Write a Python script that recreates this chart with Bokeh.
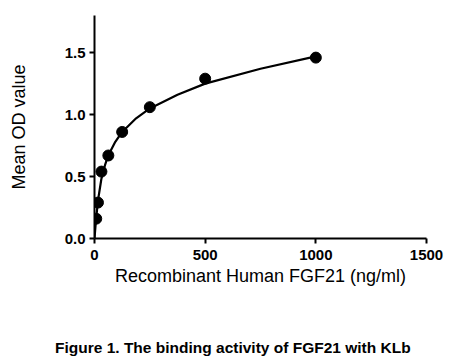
from bokeh.plotting import figure
from bokeh.models import Range1d, FixedTicker, Div
from bokeh.layouts import column
from bokeh.embed import file_html
from bokeh.resources import INLINE

# Measured data points (concentration ng/ml, mean OD)
conc = [7.8125, 15.625, 31.25, 62.5, 125, 250, 500, 1000]
od = [0.16, 0.29, 0.54, 0.67, 0.86, 1.06, 1.29, 1.46]

# Fitted curve
curve_x = [0, 4, 8, 16, 31, 47, 62, 94, 125, 188, 250, 375, 500, 750, 1000]
curve_y = [0.0, 0.09, 0.17, 0.31, 0.48, 0.59, 0.67, 0.78, 0.86, 0.97, 1.05, 1.16, 1.25, 1.37, 1.47]

x_ticks = [0, 500, 1000, 1500]
y_ticks = [0.0, 0.5, 1.0, 1.5]

caption_text = "Figure 1. The binding activity of FGF21 with KLb"

p = figure(width=458, height=300, output_backend="svg", toolbar_location=None,
           x_range=Range1d(0, 1500), y_range=Range1d(0, 1.8),
           min_border_left=94, min_border_right=32, min_border_top=15, min_border_bottom=62)

p.outline_line_color = None
p.grid.grid_line_color = None
p.background_fill_color = "white"
p.border_fill_color = "white"

p.line(curve_x, curve_y, line_color="black", line_width=2.2)
p.scatter(conc, od, size=11, fill_color="black", line_color="black")

for ax in (p.xaxis[0], p.yaxis[0]):
    ax.axis_line_width = 2
    ax.axis_line_color = "black"
    ax.major_tick_line_width = 2
    ax.major_tick_line_color = "black"
    ax.major_tick_in = 0
    ax.major_tick_out = 5
    ax.minor_tick_line_color = None
    ax.major_label_text_font = "Liberation Sans"
    ax.major_label_text_font_style = "bold"
    ax.major_label_text_font_size = "15px"
    ax.major_label_text_color = "black"
    ax.axis_label_text_font = "Liberation Sans"
    ax.axis_label_text_font_style = "normal"
    ax.axis_label_text_font_size = "18px"
    ax.axis_label_text_color = "black"

p.xaxis.ticker = FixedTicker(ticks=x_ticks)
p.yaxis.ticker = FixedTicker(ticks=y_ticks)
p.yaxis.major_label_overrides = {0.0: "0.0", 0.5: "0.5", 1.0: "1.0", 1.5: "1.5"}
p.xaxis.major_label_standoff = 6
p.yaxis.major_label_standoff = 4
p.xaxis.axis_label = "Recombinant Human FGF21 (ng/ml)"
p.yaxis.axis_label = "Mean OD value"
p.xaxis.axis_label_standoff = 3
p.yaxis.axis_label_standoff = 33

div = Div(text=caption_text, width=458, height=56, margin=0,
          styles={"font-family": "'Liberation Sans', Arial, sans-serif",
                  "font-weight": "bold", "font-size": "15.5px",
                  "line-height": "18px", "padding-top": "39px",
                  "padding-left": "55px", "color": "black",
                  "background-color": "white", "box-sizing": "border-box"})

layout = column(p, div, spacing=0)

open("out.html", "w").write(file_html(layout, INLINE))
